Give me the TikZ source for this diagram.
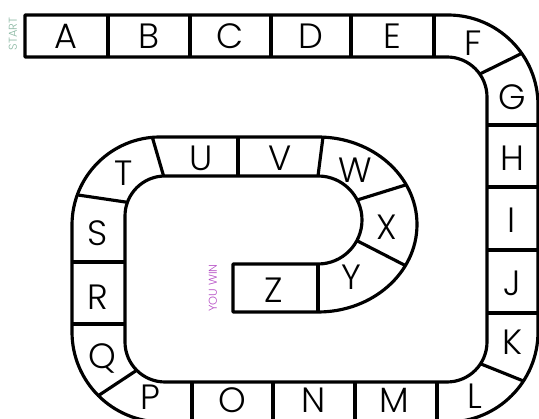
\documentclass[tikz,border=0pt]{standalone}
\usepackage{fontspec}
\setmainfont{Poppins}[UprightFont={* Light}]
\definecolor{startgreen}{HTML}{8DB9A4}
\definecolor{winpurple}{HTML}{B44CC4}

\begin{document}
\begin{tikzpicture}
[
	x=0.02cm, y=0.02cm,
	track/.style={line width=1.8pt, line join=round},
	cell/.style={inner sep=0pt, font=\fontsize{20}{24}\selectfont},
	tag/.style={inner sep=0pt, rotate=90, font=\fontsize{6.5}{8}\selectfont}
]
	\useasboundingbox (0,0) rectangle (539,419);

	% corner centres
	\coordinate (tro) at (448,314);
	\coordinate (tri) at (447,322);
	\coordinate (bro) at (448,87);
	\coordinate (bri) at (447,77);
	\coordinate (blo) at (162,87);
	\coordinate (bli) at (165,77);
	\coordinate (tlo) at (160,194);
	\coordinate (tli) at (165,203);
	\coordinate (uo) at (318,194.5);
	\coordinate (ui) at (318,199);

	% track outline
	\draw[track] (25,404) -- (448,404) arc[start angle=90, end angle=0, radius=90]
		-- (538,87) arc[start angle=0, end angle=-90, radius=90]
		-- (162,-3) arc[start angle=270, end angle=180, radius=90]
		-- (72,194) arc[start angle=180, end angle=90, radius=88]
		-- (318,282) arc[start angle=90, end angle=-90, x radius=99, y radius=87.5]
		-- (233,107) -- (233,155) -- (318,155) arc[start angle=-90, end angle=90, radius=44]
		-- (165,243) arc[start angle=90, end angle=180, radius=40]
		-- (125,77) arc[start angle=180, end angle=270, radius=40]
		-- (447,37) arc[start angle=-90, end angle=0, radius=40]
		-- (487,322) arc[start angle=0, end angle=90, radius=40]
		-- (25,362) -- cycle;

	% top row
	\draw[track] (108,362) -- (108,404);
	\draw[track] (190,362) -- (190,404);
	\draw[track] (271,362) -- (271,404);
	\draw[track] (351,362) -- (351,404);
	\draw[track] (434,362) -- (434,404);

	% right side
	\draw[track] ([shift={(35:40)}]tri) -- ([shift={(35:90)}]tro);
	\draw[track] (487,294) -- (538,294);
	\draw[track] (487,232) -- (538,232);
	\draw[track] (487,169) -- (538,169);
	\draw[track] (487,106) -- (538,106);
	\draw[track] ([shift={(-33:40)}]bri) -- ([shift={(-33:90)}]bro);

	% bottom row
	\draw[track] (437,37) -- (437,-3);
	\draw[track] (355,37) -- (355,-3);
	\draw[track] (273,37) -- (273,-3);
	\draw[track] (192,37) -- (192,-3);
	\draw[track] ([shift={(225:40)}]bli) -- ([shift={(225:90)}]blo);

	% left side
	\draw[track] (72,95) -- (125,95);
	\draw[track] (72,157) -- (125,157);
	\draw[track] ([shift={(160:40)}]tli) -- ([shift={(160:88)}]tlo);

	% inner loop
	\draw[track] ([shift={(92:40)}]tli) -- ([shift={(95:88)}]tlo);
	\draw[track] (238,243) -- (238,282);
	\draw[track] (318,243) -- (323,282);
	\draw[track] ([shift={(27:44)}]ui) -- ([shift={(27:99 and 87.5)}]uo);
	\draw[track] ([shift={(-28:44)}]ui) -- ([shift={(-28:99 and 87.5)}]uo);
	\draw[track] (318,155) -- (318,107);

	% letters
	\node[cell] (a) at (66,383) {A};
	\node[cell] (b) at (149,383) {B};
	\node[cell] (c) at (230,383) {C};
	\node[cell] (d) at (311,383) {D};
	\node[cell] (e) at (392,383) {E};
	\node[cell] (f) at (473,376) {F};
	\node[cell] (g) at (512,322) {G};
	\node[cell] (h) at (512,261) {H};
	\node[cell] (i) at (512,199) {I};
	\node[cell] (j) at (512,136) {J};
	\node[cell] (k) at (512,77) {K};
	\node[cell] (l) at (475,23) {L};
	\node[cell] (m) at (394,19) {M};
	\node[cell] (n) at (314,19) {N};
	\node[cell] (o) at (232,19) {O};
	\node[cell] (p) at (150,22) {P};
	\node[cell] (q) at (102,61) {Q};
	\node[cell] (r) at (98,122) {R};
	\node[cell] (s) at (98,186) {S};
	\node[cell] (t) at (124,246) {T};
	\node[cell] (u) at (201,261) {U};
	\node[cell] (v) at (280,261) {V};
	\node[cell] (w) at (355,249) {W};
	\node[cell] (x) at (387,192) {X};
	\node[cell] (y) at (351,142) {Y};
	\node[cell] (z) at (274,129) {Z};

	% start and finish
	\node[tag,startgreen] (start) at (13,385) {START};
	\node[tag,winpurple] (win) at (213,131) {YOU WIN};

\end{tikzpicture}
\end{document}
